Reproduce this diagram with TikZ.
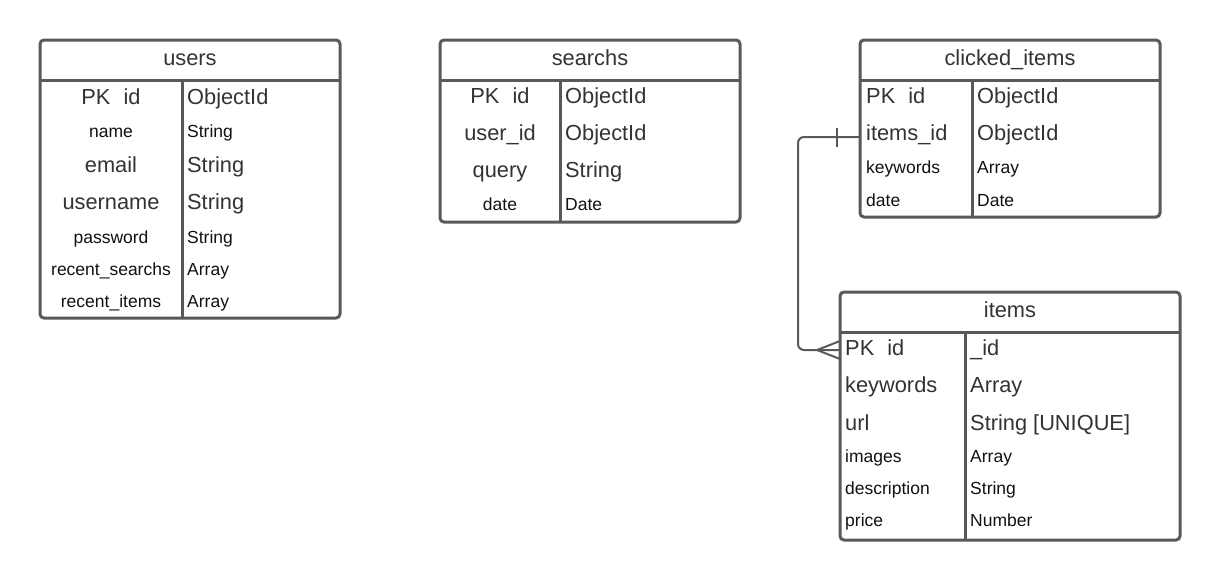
\documentclass[tikz,border=0pt]{standalone}
\usepackage{fontspec}
\setmainfont{Liberation Sans}
\definecolor{bordergray}{HTML}{595959}
\definecolor{txtdark}{HTML}{333333}
\definecolor{txtsmall}{HTML}{111111}
\tikzset{
  tbl/.style={draw=bordergray, line width=3pt, rounded corners=4pt, inner sep=0pt, outer sep=0pt, fill=white},
  rule/.style={draw=bordergray, line width=3pt},
  big/.style={font=\fontsize{21.8}{26}\selectfont, text=txtdark, inner sep=0pt},
  sml/.style={font=\fontsize{17.5}{21}\selectfont, text=txtsmall, inner sep=0pt},
  lw/.style={anchor=base west},
  ctr/.style={anchor=base},
  conn/.style={draw=bordergray, line width=2pt},
}
\newcommand{\pkid}{PK\hspace{0.6em}id}
\begin{document}
\begin{tikzpicture}[x=1pt,y=-1pt]
\useasboundingbox (0,0) rectangle (1220,579);

% ---------------- users ----------------
\node[tbl, minimum width=300pt, minimum height=278pt] (users) at (190,179) {};
\coordinate (uH) at (0,80);
\coordinate (uD) at (182,0);
\draw[rule] (users.west |- uH) -- (users.east |- uH);
\draw[rule] (uD |- uH) -- (uD |- users.south);
\node[big, ctr] (uT) at (190,65) {users};
\node[big, ctr] (u1a) at (111,104) {\pkid};
\node[big, lw]  (u1b) at (187,104) {ObjectId};
\node[sml, ctr] (u2a) at (111,137) {name};
\node[sml, lw]  (u2b) at (187,137) {String};
\node[big, ctr] (u3a) at (111,172) {email};
\node[big, lw]  (u3b) at (187,172) {String};
\node[big, ctr] (u4a) at (111,209) {username};
\node[big, lw]  (u4b) at (187,209) {String};
\node[sml, ctr] (u5a) at (111,243) {password};
\node[sml, lw]  (u5b) at (187,243) {String};
\node[sml, ctr] (u6a) at (111,275) {recent\_searchs};
\node[sml, lw]  (u6b) at (187,275) {Array};
\node[sml, ctr] (u7a) at (111,307) {recent\_items};
\node[sml, lw]  (u7b) at (187,307) {Array};

% ---------------- searchs ----------------
\node[tbl, minimum width=300pt, minimum height=182pt] (searchs) at (590,131) {};
\coordinate (sH) at (0,80);
\coordinate (sD) at (560,0);
\draw[rule] (searchs.west |- sH) -- (searchs.east |- sH);
\draw[rule] (sD |- sH) -- (sD |- searchs.south);
\node[big, ctr] (sT) at (590,65) {searchs};
\node[big, ctr] (s1a) at (500,103) {\pkid};
\node[big, lw]  (s1b) at (565,103) {ObjectId};
\node[big, ctr] (s2a) at (500,140) {user\_id};
\node[big, lw]  (s2b) at (565,140) {ObjectId};
\node[big, ctr] (s3a) at (500,177) {query};
\node[big, lw]  (s3b) at (565,177) {String};
\node[sml, ctr] (s4a) at (500,210) {date};
\node[sml, lw]  (s4b) at (565,210) {Date};

% ---------------- clicked_items ----------------
\node[tbl, minimum width=300pt, minimum height=177pt] (clicked) at (1010,128.5) {};
\coordinate (cH) at (0,80);
\coordinate (cD) at (972,0);
\draw[rule] (clicked.west |- cH) -- (clicked.east |- cH);
\draw[rule] (cD |- cH) -- (cD |- clicked.south);
\node[big, ctr] (cT) at (1010,65) {clicked\_items};
\node[big, lw] (c1a) at (866,103) {\pkid};
\node[big, lw] (c1b) at (977,103) {ObjectId};
\node[big, lw] (c2a) at (866,140) {items\_id};
\node[big, lw] (c2b) at (977,140) {ObjectId};
\node[sml, lw] (c3a) at (866,173) {keywords};
\node[sml, lw] (c3b) at (977,173) {Array};
\node[sml, lw] (c4a) at (866,206) {date};
\node[sml, lw] (c4b) at (977,206) {Date};

% ---------------- items ----------------
\node[tbl, minimum width=340pt, minimum height=248pt] (items) at (1010,416) {};
\coordinate (iH) at (0,332);
\coordinate (iD) at (965,0);
\draw[rule] (items.west |- iH) -- (items.east |- iH);
\draw[rule] (iD |- iH) -- (iD |- items.south);
\node[big, ctr] (iT) at (1010,317) {items};
\node[big, lw] (i1a) at (845,355) {\pkid};
\node[big, lw] (i1b) at (970,355) {\_id};
\node[big, lw] (i2a) at (845,392) {keywords};
\node[big, lw] (i2b) at (970,392) {Array};
\node[big, lw] (i3a) at (845,430) {url};
\node[big, lw] (i3b) at (970,430) {String [UNIQUE]};
\node[sml, lw] (i4a) at (845,462) {images};
\node[sml, lw] (i4b) at (970,462) {Array};
\node[sml, lw] (i5a) at (845,494) {description};
\node[sml, lw] (i5b) at (970,494) {String};
\node[sml, lw] (i6a) at (845,526) {price};
\node[sml, lw] (i6b) at (970,526) {Number};

% ---------------- connector ----------------
\coordinate (cRow) at (0,137);
\coordinate (iRow) at (0,350);
\coordinate (ciEnd) at (clicked.west |- cRow);
\coordinate (itEnd) at (items.west |- iRow);
\coordinate (bend) at (798,0);
\draw[conn, rounded corners=6pt] (ciEnd) -- (bend |- ciEnd) -- (bend |- itEnd) -- (itEnd);
% one mark
\draw[conn] ([xshift=-23pt,yshift=-10pt]ciEnd) -- ([xshift=-23pt,yshift=9pt]ciEnd);
% many mark
\draw[conn] ([xshift=-23pt]itEnd) -- ([yshift=-9pt]itEnd);
\draw[conn] ([xshift=-23pt]itEnd) -- ([yshift=9pt]itEnd);
\end{tikzpicture}
\end{document}
